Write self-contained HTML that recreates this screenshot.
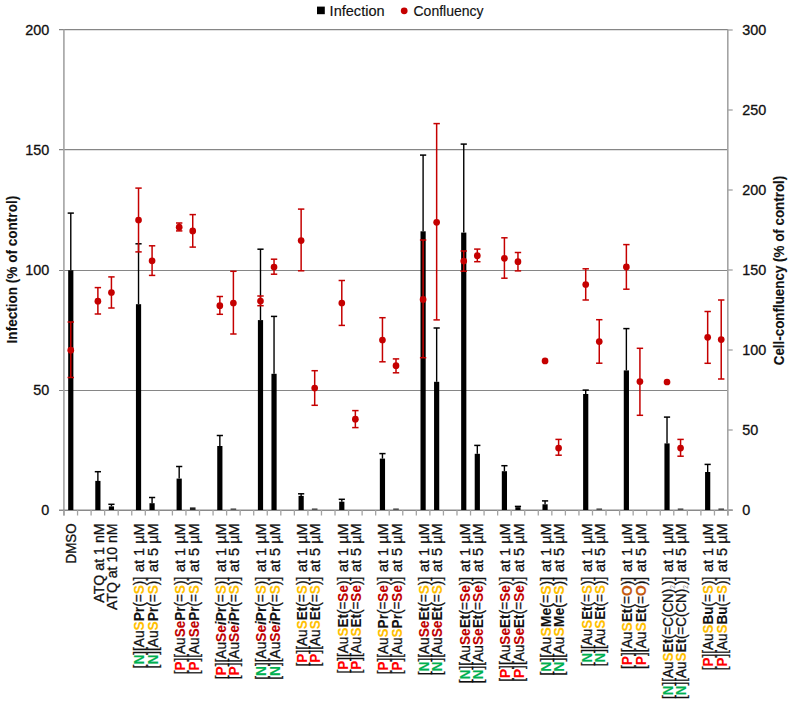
<!DOCTYPE html>
<html><head><meta charset="utf-8"><style>
html,body{margin:0;padding:0;background:#fff;}
body{width:793px;height:705px;overflow:hidden;}
svg{display:block;font-family:"Liberation Sans",sans-serif;}
text{stroke:#111;stroke-width:0.3px;}
</style></head><body>
<svg width="793" height="705" viewBox="0 0 793 705">
<rect width="793" height="705" fill="#fff"/>
<line x1="59" y1="390.5" x2="728" y2="390.5" stroke="#868686" stroke-width="1.2"/>
<line x1="59" y1="270.5" x2="728" y2="270.5" stroke="#868686" stroke-width="1.2"/>
<line x1="59" y1="149.7" x2="728" y2="149.7" stroke="#868686" stroke-width="1.2"/>
<line x1="59" y1="29.6" x2="728" y2="29.6" stroke="#868686" stroke-width="1.2"/>
<line x1="63.9" y1="29.5" x2="63.9" y2="515.5" stroke="#a3a3a3" stroke-width="1.6"/>
<line x1="59" y1="510.3" x2="732.7" y2="510.3" stroke="#8a8a8a" stroke-width="1.4"/>
<line x1="727.8" y1="29.5" x2="727.8" y2="515.5" stroke="#a3a3a3" stroke-width="1.6"/>
<line x1="727.8" y1="510.0" x2="732.7" y2="510.0" stroke="#a3a3a3" stroke-width="1.3"/>
<line x1="727.8" y1="430.0" x2="732.7" y2="430.0" stroke="#a3a3a3" stroke-width="1.3"/>
<line x1="727.8" y1="350.0" x2="732.7" y2="350.0" stroke="#a3a3a3" stroke-width="1.3"/>
<line x1="727.8" y1="270.0" x2="732.7" y2="270.0" stroke="#a3a3a3" stroke-width="1.3"/>
<line x1="727.8" y1="190.0" x2="732.7" y2="190.0" stroke="#a3a3a3" stroke-width="1.3"/>
<line x1="727.8" y1="110.0" x2="732.7" y2="110.0" stroke="#a3a3a3" stroke-width="1.3"/>
<line x1="727.8" y1="30.0" x2="732.7" y2="30.0" stroke="#a3a3a3" stroke-width="1.3"/>
<line x1="64.00" y1="510" x2="64.00" y2="515.5" stroke="#a3a3a3" stroke-width="1.3"/>
<line x1="77.55" y1="510" x2="77.55" y2="515.5" stroke="#a3a3a3" stroke-width="1.3"/>
<line x1="91.10" y1="510" x2="91.10" y2="515.5" stroke="#a3a3a3" stroke-width="1.3"/>
<line x1="104.65" y1="510" x2="104.65" y2="515.5" stroke="#a3a3a3" stroke-width="1.3"/>
<line x1="118.20" y1="510" x2="118.20" y2="515.5" stroke="#a3a3a3" stroke-width="1.3"/>
<line x1="131.75" y1="510" x2="131.75" y2="515.5" stroke="#a3a3a3" stroke-width="1.3"/>
<line x1="145.31" y1="510" x2="145.31" y2="515.5" stroke="#a3a3a3" stroke-width="1.3"/>
<line x1="158.86" y1="510" x2="158.86" y2="515.5" stroke="#a3a3a3" stroke-width="1.3"/>
<line x1="172.41" y1="510" x2="172.41" y2="515.5" stroke="#a3a3a3" stroke-width="1.3"/>
<line x1="185.96" y1="510" x2="185.96" y2="515.5" stroke="#a3a3a3" stroke-width="1.3"/>
<line x1="199.51" y1="510" x2="199.51" y2="515.5" stroke="#a3a3a3" stroke-width="1.3"/>
<line x1="213.06" y1="510" x2="213.06" y2="515.5" stroke="#a3a3a3" stroke-width="1.3"/>
<line x1="226.61" y1="510" x2="226.61" y2="515.5" stroke="#a3a3a3" stroke-width="1.3"/>
<line x1="240.16" y1="510" x2="240.16" y2="515.5" stroke="#a3a3a3" stroke-width="1.3"/>
<line x1="253.71" y1="510" x2="253.71" y2="515.5" stroke="#a3a3a3" stroke-width="1.3"/>
<line x1="267.26" y1="510" x2="267.26" y2="515.5" stroke="#a3a3a3" stroke-width="1.3"/>
<line x1="280.82" y1="510" x2="280.82" y2="515.5" stroke="#a3a3a3" stroke-width="1.3"/>
<line x1="294.37" y1="510" x2="294.37" y2="515.5" stroke="#a3a3a3" stroke-width="1.3"/>
<line x1="307.92" y1="510" x2="307.92" y2="515.5" stroke="#a3a3a3" stroke-width="1.3"/>
<line x1="321.47" y1="510" x2="321.47" y2="515.5" stroke="#a3a3a3" stroke-width="1.3"/>
<line x1="335.02" y1="510" x2="335.02" y2="515.5" stroke="#a3a3a3" stroke-width="1.3"/>
<line x1="348.57" y1="510" x2="348.57" y2="515.5" stroke="#a3a3a3" stroke-width="1.3"/>
<line x1="362.12" y1="510" x2="362.12" y2="515.5" stroke="#a3a3a3" stroke-width="1.3"/>
<line x1="375.67" y1="510" x2="375.67" y2="515.5" stroke="#a3a3a3" stroke-width="1.3"/>
<line x1="389.22" y1="510" x2="389.22" y2="515.5" stroke="#a3a3a3" stroke-width="1.3"/>
<line x1="402.77" y1="510" x2="402.77" y2="515.5" stroke="#a3a3a3" stroke-width="1.3"/>
<line x1="416.33" y1="510" x2="416.33" y2="515.5" stroke="#a3a3a3" stroke-width="1.3"/>
<line x1="429.88" y1="510" x2="429.88" y2="515.5" stroke="#a3a3a3" stroke-width="1.3"/>
<line x1="443.43" y1="510" x2="443.43" y2="515.5" stroke="#a3a3a3" stroke-width="1.3"/>
<line x1="456.98" y1="510" x2="456.98" y2="515.5" stroke="#a3a3a3" stroke-width="1.3"/>
<line x1="470.53" y1="510" x2="470.53" y2="515.5" stroke="#a3a3a3" stroke-width="1.3"/>
<line x1="484.08" y1="510" x2="484.08" y2="515.5" stroke="#a3a3a3" stroke-width="1.3"/>
<line x1="497.63" y1="510" x2="497.63" y2="515.5" stroke="#a3a3a3" stroke-width="1.3"/>
<line x1="511.18" y1="510" x2="511.18" y2="515.5" stroke="#a3a3a3" stroke-width="1.3"/>
<line x1="524.73" y1="510" x2="524.73" y2="515.5" stroke="#a3a3a3" stroke-width="1.3"/>
<line x1="538.29" y1="510" x2="538.29" y2="515.5" stroke="#a3a3a3" stroke-width="1.3"/>
<line x1="551.84" y1="510" x2="551.84" y2="515.5" stroke="#a3a3a3" stroke-width="1.3"/>
<line x1="565.39" y1="510" x2="565.39" y2="515.5" stroke="#a3a3a3" stroke-width="1.3"/>
<line x1="578.94" y1="510" x2="578.94" y2="515.5" stroke="#a3a3a3" stroke-width="1.3"/>
<line x1="592.49" y1="510" x2="592.49" y2="515.5" stroke="#a3a3a3" stroke-width="1.3"/>
<line x1="606.04" y1="510" x2="606.04" y2="515.5" stroke="#a3a3a3" stroke-width="1.3"/>
<line x1="619.59" y1="510" x2="619.59" y2="515.5" stroke="#a3a3a3" stroke-width="1.3"/>
<line x1="633.14" y1="510" x2="633.14" y2="515.5" stroke="#a3a3a3" stroke-width="1.3"/>
<line x1="646.69" y1="510" x2="646.69" y2="515.5" stroke="#a3a3a3" stroke-width="1.3"/>
<line x1="660.24" y1="510" x2="660.24" y2="515.5" stroke="#a3a3a3" stroke-width="1.3"/>
<line x1="673.79" y1="510" x2="673.79" y2="515.5" stroke="#a3a3a3" stroke-width="1.3"/>
<line x1="687.35" y1="510" x2="687.35" y2="515.5" stroke="#a3a3a3" stroke-width="1.3"/>
<line x1="700.90" y1="510" x2="700.90" y2="515.5" stroke="#a3a3a3" stroke-width="1.3"/>
<line x1="714.45" y1="510" x2="714.45" y2="515.5" stroke="#a3a3a3" stroke-width="1.3"/>
<line x1="728.00" y1="510" x2="728.00" y2="515.5" stroke="#a3a3a3" stroke-width="1.3"/>
<rect x="68.18" y="270.3" width="5.2" height="239.70" fill="#000"/>
<line x1="70.78" y1="213.1" x2="70.78" y2="270.3" stroke="#000" stroke-width="1.4"/>
<line x1="67.68" y1="213.1" x2="73.88" y2="213.1" stroke="#000" stroke-width="1.5"/>
<rect x="95.28" y="480.9" width="5.2" height="29.10" fill="#000"/>
<line x1="97.88" y1="471.7" x2="97.88" y2="480.9" stroke="#000" stroke-width="1.4"/>
<line x1="94.78" y1="471.7" x2="100.98" y2="471.7" stroke="#000" stroke-width="1.5"/>
<rect x="108.83" y="506.4" width="5.2" height="3.60" fill="#000"/>
<line x1="111.43" y1="504.3" x2="111.43" y2="506.4" stroke="#000" stroke-width="1.4"/>
<line x1="108.33" y1="504.3" x2="114.53" y2="504.3" stroke="#000" stroke-width="1.5"/>
<rect x="135.93" y="304.2" width="5.2" height="205.80" fill="#000"/>
<line x1="138.53" y1="243.8" x2="138.53" y2="304.2" stroke="#000" stroke-width="1.4"/>
<line x1="135.43" y1="243.8" x2="141.63" y2="243.8" stroke="#000" stroke-width="1.5"/>
<rect x="149.48" y="503.2" width="5.2" height="6.80" fill="#000"/>
<line x1="152.08" y1="497.5" x2="152.08" y2="503.2" stroke="#000" stroke-width="1.4"/>
<line x1="148.98" y1="497.5" x2="155.18" y2="497.5" stroke="#000" stroke-width="1.5"/>
<rect x="176.58" y="478.6" width="5.2" height="31.40" fill="#000"/>
<line x1="179.18" y1="466.5" x2="179.18" y2="478.6" stroke="#000" stroke-width="1.4"/>
<line x1="176.08" y1="466.5" x2="182.28" y2="466.5" stroke="#000" stroke-width="1.5"/>
<rect x="189.93" y="507.4" width="5.6" height="2.60" fill="#222"/>
<rect x="217.24" y="446" width="5.2" height="64.00" fill="#000"/>
<line x1="219.84" y1="435.5" x2="219.84" y2="446" stroke="#000" stroke-width="1.4"/>
<line x1="216.74" y1="435.5" x2="222.94" y2="435.5" stroke="#000" stroke-width="1.5"/>
<rect x="230.59" y="508.5" width="5.6" height="1.3" fill="#333"/>
<rect x="257.89" y="320.1" width="5.2" height="189.90" fill="#000"/>
<line x1="260.49" y1="249.2" x2="260.49" y2="320.1" stroke="#000" stroke-width="1.4"/>
<line x1="257.39" y1="249.2" x2="263.59" y2="249.2" stroke="#000" stroke-width="1.5"/>
<rect x="271.44" y="373.8" width="5.2" height="136.20" fill="#000"/>
<line x1="274.04" y1="316.4" x2="274.04" y2="373.8" stroke="#000" stroke-width="1.4"/>
<line x1="270.94" y1="316.4" x2="277.14" y2="316.4" stroke="#000" stroke-width="1.5"/>
<rect x="298.54" y="495.9" width="5.2" height="14.10" fill="#000"/>
<line x1="301.14" y1="493.8" x2="301.14" y2="495.9" stroke="#000" stroke-width="1.4"/>
<line x1="298.04" y1="493.8" x2="304.24" y2="493.8" stroke="#000" stroke-width="1.5"/>
<rect x="311.89" y="508.5" width="5.6" height="1.3" fill="#333"/>
<rect x="339.20" y="501.7" width="5.2" height="8.30" fill="#000"/>
<line x1="341.80" y1="499.3" x2="341.80" y2="501.7" stroke="#000" stroke-width="1.4"/>
<line x1="338.70" y1="499.3" x2="344.90" y2="499.3" stroke="#000" stroke-width="1.5"/>
<rect x="379.85" y="458.6" width="5.2" height="51.40" fill="#000"/>
<line x1="382.45" y1="453.6" x2="382.45" y2="458.6" stroke="#000" stroke-width="1.4"/>
<line x1="379.35" y1="453.6" x2="385.55" y2="453.6" stroke="#000" stroke-width="1.5"/>
<rect x="393.20" y="508.5" width="5.6" height="1.3" fill="#333"/>
<rect x="420.50" y="231.3" width="5.2" height="278.70" fill="#000"/>
<line x1="423.10" y1="155.1" x2="423.10" y2="231.3" stroke="#000" stroke-width="1.4"/>
<line x1="420.00" y1="155.1" x2="426.20" y2="155.1" stroke="#000" stroke-width="1.5"/>
<rect x="434.05" y="381.8" width="5.2" height="128.20" fill="#000"/>
<line x1="436.65" y1="328" x2="436.65" y2="381.8" stroke="#000" stroke-width="1.4"/>
<line x1="433.55" y1="328" x2="439.75" y2="328" stroke="#000" stroke-width="1.5"/>
<rect x="461.15" y="232.6" width="5.2" height="277.40" fill="#000"/>
<line x1="463.75" y1="144.1" x2="463.75" y2="232.6" stroke="#000" stroke-width="1.4"/>
<line x1="460.65" y1="144.1" x2="466.85" y2="144.1" stroke="#000" stroke-width="1.5"/>
<rect x="474.71" y="453.8" width="5.2" height="56.20" fill="#000"/>
<line x1="477.31" y1="445.4" x2="477.31" y2="453.8" stroke="#000" stroke-width="1.4"/>
<line x1="474.21" y1="445.4" x2="480.41" y2="445.4" stroke="#000" stroke-width="1.5"/>
<rect x="501.81" y="471.2" width="5.2" height="38.80" fill="#000"/>
<line x1="504.41" y1="465.7" x2="504.41" y2="471.2" stroke="#000" stroke-width="1.4"/>
<line x1="501.31" y1="465.7" x2="507.51" y2="465.7" stroke="#000" stroke-width="1.5"/>
<rect x="515.36" y="507.2" width="5.2" height="2.80" fill="#000"/>
<line x1="517.96" y1="506.4" x2="517.96" y2="507.2" stroke="#000" stroke-width="1.4"/>
<line x1="514.86" y1="506.4" x2="521.06" y2="506.4" stroke="#000" stroke-width="1.5"/>
<rect x="542.46" y="504.3" width="5.2" height="5.70" fill="#000"/>
<line x1="545.06" y1="500.9" x2="545.06" y2="504.3" stroke="#000" stroke-width="1.4"/>
<line x1="541.96" y1="500.9" x2="548.16" y2="500.9" stroke="#000" stroke-width="1.5"/>
<rect x="583.11" y="394" width="5.2" height="116.00" fill="#000"/>
<line x1="585.71" y1="390.1" x2="585.71" y2="394" stroke="#000" stroke-width="1.4"/>
<line x1="582.61" y1="390.1" x2="588.81" y2="390.1" stroke="#000" stroke-width="1.5"/>
<rect x="596.46" y="508.5" width="5.6" height="1.3" fill="#333"/>
<rect x="623.77" y="370.4" width="5.2" height="139.60" fill="#000"/>
<line x1="626.37" y1="328.6" x2="626.37" y2="370.4" stroke="#000" stroke-width="1.4"/>
<line x1="623.27" y1="328.6" x2="629.47" y2="328.6" stroke="#000" stroke-width="1.5"/>
<rect x="664.42" y="443.4" width="5.2" height="66.60" fill="#000"/>
<line x1="667.02" y1="417.1" x2="667.02" y2="443.4" stroke="#000" stroke-width="1.4"/>
<line x1="663.92" y1="417.1" x2="670.12" y2="417.1" stroke="#000" stroke-width="1.5"/>
<rect x="677.77" y="508.5" width="5.6" height="1.3" fill="#333"/>
<rect x="705.07" y="472" width="5.2" height="38.00" fill="#000"/>
<line x1="707.67" y1="464.4" x2="707.67" y2="472" stroke="#000" stroke-width="1.4"/>
<line x1="704.57" y1="464.4" x2="710.77" y2="464.4" stroke="#000" stroke-width="1.5"/>
<rect x="718.42" y="508.5" width="5.6" height="1.3" fill="#333"/>
<line x1="70.78" y1="322" x2="70.78" y2="377.5" stroke="#C50000" stroke-width="1.5"/>
<line x1="67.58" y1="322" x2="73.98" y2="322" stroke="#C50000" stroke-width="1.5"/>
<line x1="67.58" y1="377.5" x2="73.98" y2="377.5" stroke="#C50000" stroke-width="1.5"/>
<circle cx="70.78" cy="350.2" r="3.35" fill="#C50000"/>
<line x1="97.88" y1="287.6" x2="97.88" y2="314" stroke="#C50000" stroke-width="1.5"/>
<line x1="94.68" y1="287.6" x2="101.08" y2="287.6" stroke="#C50000" stroke-width="1.5"/>
<line x1="94.68" y1="314" x2="101.08" y2="314" stroke="#C50000" stroke-width="1.5"/>
<circle cx="97.88" cy="301.2" r="3.35" fill="#C50000"/>
<line x1="111.43" y1="276.9" x2="111.43" y2="308" stroke="#C50000" stroke-width="1.5"/>
<line x1="108.23" y1="276.9" x2="114.63" y2="276.9" stroke="#C50000" stroke-width="1.5"/>
<line x1="108.23" y1="308" x2="114.63" y2="308" stroke="#C50000" stroke-width="1.5"/>
<circle cx="111.43" cy="292.5" r="3.35" fill="#C50000"/>
<line x1="138.53" y1="188.1" x2="138.53" y2="251.9" stroke="#C50000" stroke-width="1.5"/>
<line x1="135.33" y1="188.1" x2="141.73" y2="188.1" stroke="#C50000" stroke-width="1.5"/>
<line x1="135.33" y1="251.9" x2="141.73" y2="251.9" stroke="#C50000" stroke-width="1.5"/>
<circle cx="138.53" cy="220" r="3.35" fill="#C50000"/>
<line x1="152.08" y1="245.8" x2="152.08" y2="275.4" stroke="#C50000" stroke-width="1.5"/>
<line x1="148.88" y1="245.8" x2="155.28" y2="245.8" stroke="#C50000" stroke-width="1.5"/>
<line x1="148.88" y1="275.4" x2="155.28" y2="275.4" stroke="#C50000" stroke-width="1.5"/>
<circle cx="152.08" cy="260.8" r="3.35" fill="#C50000"/>
<line x1="179.18" y1="223" x2="179.18" y2="230.9" stroke="#C50000" stroke-width="1.5"/>
<line x1="175.98" y1="223" x2="182.38" y2="223" stroke="#C50000" stroke-width="1.5"/>
<line x1="175.98" y1="230.9" x2="182.38" y2="230.9" stroke="#C50000" stroke-width="1.5"/>
<circle cx="179.18" cy="227.2" r="3.35" fill="#C50000"/>
<line x1="192.73" y1="214.6" x2="192.73" y2="247.1" stroke="#C50000" stroke-width="1.5"/>
<line x1="189.53" y1="214.6" x2="195.93" y2="214.6" stroke="#C50000" stroke-width="1.5"/>
<line x1="189.53" y1="247.1" x2="195.93" y2="247.1" stroke="#C50000" stroke-width="1.5"/>
<circle cx="192.73" cy="230.9" r="3.35" fill="#C50000"/>
<line x1="219.84" y1="296.5" x2="219.84" y2="314.3" stroke="#C50000" stroke-width="1.5"/>
<line x1="216.64" y1="296.5" x2="223.04" y2="296.5" stroke="#C50000" stroke-width="1.5"/>
<line x1="216.64" y1="314.3" x2="223.04" y2="314.3" stroke="#C50000" stroke-width="1.5"/>
<circle cx="219.84" cy="305.7" r="3.35" fill="#C50000"/>
<line x1="233.39" y1="271.3" x2="233.39" y2="334" stroke="#C50000" stroke-width="1.5"/>
<line x1="230.19" y1="271.3" x2="236.59" y2="271.3" stroke="#C50000" stroke-width="1.5"/>
<line x1="230.19" y1="334" x2="236.59" y2="334" stroke="#C50000" stroke-width="1.5"/>
<circle cx="233.39" cy="303" r="3.35" fill="#C50000"/>
<line x1="260.49" y1="296" x2="260.49" y2="305.7" stroke="#C50000" stroke-width="1.5"/>
<line x1="257.29" y1="296" x2="263.69" y2="296" stroke="#C50000" stroke-width="1.5"/>
<line x1="257.29" y1="305.7" x2="263.69" y2="305.7" stroke="#C50000" stroke-width="1.5"/>
<circle cx="260.49" cy="301" r="3.35" fill="#C50000"/>
<line x1="274.04" y1="259.2" x2="274.04" y2="274.2" stroke="#C50000" stroke-width="1.5"/>
<line x1="270.84" y1="259.2" x2="277.24" y2="259.2" stroke="#C50000" stroke-width="1.5"/>
<line x1="270.84" y1="274.2" x2="277.24" y2="274.2" stroke="#C50000" stroke-width="1.5"/>
<circle cx="274.04" cy="267.1" r="3.35" fill="#C50000"/>
<line x1="301.14" y1="209.1" x2="301.14" y2="270.8" stroke="#C50000" stroke-width="1.5"/>
<line x1="297.94" y1="209.1" x2="304.34" y2="209.1" stroke="#C50000" stroke-width="1.5"/>
<line x1="297.94" y1="270.8" x2="304.34" y2="270.8" stroke="#C50000" stroke-width="1.5"/>
<circle cx="301.14" cy="240.6" r="3.35" fill="#C50000"/>
<line x1="314.69" y1="370.7" x2="314.69" y2="405.3" stroke="#C50000" stroke-width="1.5"/>
<line x1="311.49" y1="370.7" x2="317.89" y2="370.7" stroke="#C50000" stroke-width="1.5"/>
<line x1="311.49" y1="405.3" x2="317.89" y2="405.3" stroke="#C50000" stroke-width="1.5"/>
<circle cx="314.69" cy="388" r="3.35" fill="#C50000"/>
<line x1="341.80" y1="280.5" x2="341.80" y2="325.4" stroke="#C50000" stroke-width="1.5"/>
<line x1="338.60" y1="280.5" x2="345.00" y2="280.5" stroke="#C50000" stroke-width="1.5"/>
<line x1="338.60" y1="325.4" x2="345.00" y2="325.4" stroke="#C50000" stroke-width="1.5"/>
<circle cx="341.80" cy="303" r="3.35" fill="#C50000"/>
<line x1="355.35" y1="410.6" x2="355.35" y2="427.6" stroke="#C50000" stroke-width="1.5"/>
<line x1="352.15" y1="410.6" x2="358.55" y2="410.6" stroke="#C50000" stroke-width="1.5"/>
<line x1="352.15" y1="427.6" x2="358.55" y2="427.6" stroke="#C50000" stroke-width="1.5"/>
<circle cx="355.35" cy="419.2" r="3.35" fill="#C50000"/>
<line x1="382.45" y1="317.7" x2="382.45" y2="361.8" stroke="#C50000" stroke-width="1.5"/>
<line x1="379.25" y1="317.7" x2="385.65" y2="317.7" stroke="#C50000" stroke-width="1.5"/>
<line x1="379.25" y1="361.8" x2="385.65" y2="361.8" stroke="#C50000" stroke-width="1.5"/>
<circle cx="382.45" cy="340" r="3.35" fill="#C50000"/>
<line x1="396.00" y1="358.9" x2="396.00" y2="372.8" stroke="#C50000" stroke-width="1.5"/>
<line x1="392.80" y1="358.9" x2="399.20" y2="358.9" stroke="#C50000" stroke-width="1.5"/>
<line x1="392.80" y1="372.8" x2="399.20" y2="372.8" stroke="#C50000" stroke-width="1.5"/>
<circle cx="396.00" cy="365.7" r="3.35" fill="#C50000"/>
<line x1="423.10" y1="240" x2="423.10" y2="357.7" stroke="#C50000" stroke-width="1.5"/>
<line x1="419.90" y1="240" x2="426.30" y2="240" stroke="#C50000" stroke-width="1.5"/>
<line x1="419.90" y1="357.7" x2="426.30" y2="357.7" stroke="#C50000" stroke-width="1.5"/>
<circle cx="423.10" cy="299.4" r="3.35" fill="#C50000"/>
<line x1="436.65" y1="123.6" x2="436.65" y2="319.9" stroke="#C50000" stroke-width="1.5"/>
<line x1="433.45" y1="123.6" x2="439.85" y2="123.6" stroke="#C50000" stroke-width="1.5"/>
<line x1="433.45" y1="319.9" x2="439.85" y2="319.9" stroke="#C50000" stroke-width="1.5"/>
<circle cx="436.65" cy="222.3" r="3.35" fill="#C50000"/>
<line x1="463.75" y1="251" x2="463.75" y2="271.2" stroke="#C50000" stroke-width="1.5"/>
<line x1="460.55" y1="251" x2="466.95" y2="251" stroke="#C50000" stroke-width="1.5"/>
<line x1="460.55" y1="271.2" x2="466.95" y2="271.2" stroke="#C50000" stroke-width="1.5"/>
<circle cx="463.75" cy="261" r="3.35" fill="#C50000"/>
<line x1="477.31" y1="249.1" x2="477.31" y2="261.7" stroke="#C50000" stroke-width="1.5"/>
<line x1="474.11" y1="249.1" x2="480.51" y2="249.1" stroke="#C50000" stroke-width="1.5"/>
<line x1="474.11" y1="261.7" x2="480.51" y2="261.7" stroke="#C50000" stroke-width="1.5"/>
<circle cx="477.31" cy="255.7" r="3.35" fill="#C50000"/>
<line x1="504.41" y1="237.8" x2="504.41" y2="278.2" stroke="#C50000" stroke-width="1.5"/>
<line x1="501.21" y1="237.8" x2="507.61" y2="237.8" stroke="#C50000" stroke-width="1.5"/>
<line x1="501.21" y1="278.2" x2="507.61" y2="278.2" stroke="#C50000" stroke-width="1.5"/>
<circle cx="504.41" cy="258.3" r="3.35" fill="#C50000"/>
<line x1="517.96" y1="252.5" x2="517.96" y2="270.9" stroke="#C50000" stroke-width="1.5"/>
<line x1="514.76" y1="252.5" x2="521.16" y2="252.5" stroke="#C50000" stroke-width="1.5"/>
<line x1="514.76" y1="270.9" x2="521.16" y2="270.9" stroke="#C50000" stroke-width="1.5"/>
<circle cx="517.96" cy="261.7" r="3.35" fill="#C50000"/>
<circle cx="545.06" cy="360.9" r="3.35" fill="#C50000"/>
<line x1="558.61" y1="439.4" x2="558.61" y2="455.2" stroke="#C50000" stroke-width="1.5"/>
<line x1="555.41" y1="439.4" x2="561.81" y2="439.4" stroke="#C50000" stroke-width="1.5"/>
<line x1="555.41" y1="455.2" x2="561.81" y2="455.2" stroke="#C50000" stroke-width="1.5"/>
<circle cx="558.61" cy="448.1" r="3.35" fill="#C50000"/>
<line x1="585.71" y1="268.8" x2="585.71" y2="300" stroke="#C50000" stroke-width="1.5"/>
<line x1="582.51" y1="268.8" x2="588.91" y2="268.8" stroke="#C50000" stroke-width="1.5"/>
<line x1="582.51" y1="300" x2="588.91" y2="300" stroke="#C50000" stroke-width="1.5"/>
<circle cx="585.71" cy="284.5" r="3.35" fill="#C50000"/>
<line x1="599.26" y1="319.7" x2="599.26" y2="363.2" stroke="#C50000" stroke-width="1.5"/>
<line x1="596.06" y1="319.7" x2="602.46" y2="319.7" stroke="#C50000" stroke-width="1.5"/>
<line x1="596.06" y1="363.2" x2="602.46" y2="363.2" stroke="#C50000" stroke-width="1.5"/>
<circle cx="599.26" cy="341.6" r="3.35" fill="#C50000"/>
<line x1="626.37" y1="244.6" x2="626.37" y2="289.2" stroke="#C50000" stroke-width="1.5"/>
<line x1="623.17" y1="244.6" x2="629.57" y2="244.6" stroke="#C50000" stroke-width="1.5"/>
<line x1="623.17" y1="289.2" x2="629.57" y2="289.2" stroke="#C50000" stroke-width="1.5"/>
<circle cx="626.37" cy="266.9" r="3.35" fill="#C50000"/>
<line x1="639.92" y1="348.3" x2="639.92" y2="415.3" stroke="#C50000" stroke-width="1.5"/>
<line x1="636.72" y1="348.3" x2="643.12" y2="348.3" stroke="#C50000" stroke-width="1.5"/>
<line x1="636.72" y1="415.3" x2="643.12" y2="415.3" stroke="#C50000" stroke-width="1.5"/>
<circle cx="639.92" cy="381.6" r="3.35" fill="#C50000"/>
<circle cx="667.02" cy="382" r="3.35" fill="#C50000"/>
<line x1="680.57" y1="439.4" x2="680.57" y2="456.2" stroke="#C50000" stroke-width="1.5"/>
<line x1="677.37" y1="439.4" x2="683.77" y2="439.4" stroke="#C50000" stroke-width="1.5"/>
<line x1="677.37" y1="456.2" x2="683.77" y2="456.2" stroke="#C50000" stroke-width="1.5"/>
<circle cx="680.57" cy="448.1" r="3.35" fill="#C50000"/>
<line x1="707.67" y1="311.5" x2="707.67" y2="363.3" stroke="#C50000" stroke-width="1.5"/>
<line x1="704.47" y1="311.5" x2="710.87" y2="311.5" stroke="#C50000" stroke-width="1.5"/>
<line x1="704.47" y1="363.3" x2="710.87" y2="363.3" stroke="#C50000" stroke-width="1.5"/>
<circle cx="707.67" cy="337.3" r="3.35" fill="#C50000"/>
<line x1="721.22" y1="300" x2="721.22" y2="379" stroke="#C50000" stroke-width="1.5"/>
<line x1="718.02" y1="300" x2="724.42" y2="300" stroke="#C50000" stroke-width="1.5"/>
<line x1="718.02" y1="379" x2="724.42" y2="379" stroke="#C50000" stroke-width="1.5"/>
<circle cx="721.22" cy="339.6" r="3.35" fill="#C50000"/>
<g font-size="14.4" fill="#111" style="stroke-width:0.12px">
<text x="49.2" y="514.76" text-anchor="end">0</text>
<text x="49.2" y="394.76" text-anchor="end">50</text>
<text x="49.2" y="274.76" text-anchor="end">100</text>
<text x="49.2" y="154.76" text-anchor="end">150</text>
<text x="49.2" y="34.76" text-anchor="end">200</text>
<text x="742.3" y="514.76">0</text>
<text x="742.3" y="434.76">50</text>
<text x="742.3" y="354.76">100</text>
<text x="742.3" y="274.76">150</text>
<text x="742.3" y="194.76">200</text>
<text x="742.3" y="114.76">250</text>
<text x="742.3" y="34.76">300</text>
</g>
<text transform="translate(16.7,269.6) rotate(-90)" text-anchor="middle" font-weight="bold" style="stroke-width:0.12px" font-size="14.4" textLength="147.6" lengthAdjust="spacingAndGlyphs" fill="#111">Infection (% of control)</text>
<text transform="translate(784.3,270.5) rotate(-90)" text-anchor="middle" font-weight="bold" style="stroke-width:0.12px" font-size="14.4" textLength="189.5" lengthAdjust="spacingAndGlyphs" fill="#111">Cell-confluency (% of control)</text>
<rect x="317" y="6.6" width="7.8" height="7.6" fill="#000"/>
<text x="329.6" y="15.5" font-size="14.6" style="stroke-width:0.15px" textLength="55" lengthAdjust="spacingAndGlyphs" fill="#111">Infection</text>
<circle cx="404.2" cy="10.8" r="3.4" fill="#C50000"/>
<text x="413.5" y="15.5" font-size="14.6" style="stroke-width:0.15px" textLength="70" lengthAdjust="spacingAndGlyphs" fill="#111">Confluency</text>
<g fill="#111">
<text transform="translate(75.98,523.4) rotate(-90)" text-anchor="end" textLength="40.1" lengthAdjust="spacingAndGlyphs" font-size="14.4">DMSO</text>
<text transform="translate(103.68,523.4) rotate(-90)" text-anchor="end" textLength="79.3" lengthAdjust="spacingAndGlyphs" font-size="14.4">ATQ at 1 nM</text>
<text transform="translate(117.23,523.4) rotate(-90)" text-anchor="end" textLength="86.7" lengthAdjust="spacingAndGlyphs" font-size="14.4">ATQ at 10 nM</text>
<text transform="translate(144.33,523.4) rotate(-90)" text-anchor="end" textLength="48.7" lengthAdjust="spacingAndGlyphs" font-size="14.4">at 1 µM</text><text transform="translate(144.33,668.40) rotate(-90)" text-anchor="start" textLength="91.6" lengthAdjust="spacingAndGlyphs" font-size="14.4">[<tspan style="font-weight:bold;stroke-width:0.1px;fill:#00B050;stroke:#00B050">N</tspan>][Au<tspan style="font-weight:bold;stroke-width:0.1px;fill:#FFC000;stroke:#FFC000">S</tspan><tspan style="font-weight:bold;stroke-width:0.1px">Pr</tspan>(=<tspan style="font-weight:bold;stroke-width:0.1px;fill:#FFC000;stroke:#FFC000">S</tspan>)]</text>
<text transform="translate(157.88,523.4) rotate(-90)" text-anchor="end" textLength="48.7" lengthAdjust="spacingAndGlyphs" font-size="14.4">at 5 µM</text><text transform="translate(157.88,668.40) rotate(-90)" text-anchor="start" textLength="91.6" lengthAdjust="spacingAndGlyphs" font-size="14.4">[<tspan style="font-weight:bold;stroke-width:0.1px;fill:#00B050;stroke:#00B050">N</tspan>][Au<tspan style="font-weight:bold;stroke-width:0.1px;fill:#FFC000;stroke:#FFC000">S</tspan><tspan style="font-weight:bold;stroke-width:0.1px">Pr</tspan>(=<tspan style="font-weight:bold;stroke-width:0.1px;fill:#FFC000;stroke:#FFC000">S</tspan>)]</text>
<text transform="translate(184.98,523.4) rotate(-90)" text-anchor="end" textLength="48.7" lengthAdjust="spacingAndGlyphs" font-size="14.4">at 1 µM</text><text transform="translate(184.98,674.20) rotate(-90)" text-anchor="start" textLength="97.4" lengthAdjust="spacingAndGlyphs" font-size="14.4">[<tspan style="font-weight:bold;stroke-width:0.1px;fill:#FF0000;stroke:#FF0000">P</tspan>][Au<tspan style="font-weight:bold;stroke-width:0.1px;fill:#C00000;stroke:#C00000">Se</tspan><tspan style="font-weight:bold;stroke-width:0.1px">Pr</tspan>(=<tspan style="font-weight:bold;stroke-width:0.1px;fill:#FFC000;stroke:#FFC000">S</tspan>)]</text>
<text transform="translate(198.53,523.4) rotate(-90)" text-anchor="end" textLength="48.7" lengthAdjust="spacingAndGlyphs" font-size="14.4">at 5 µM</text><text transform="translate(198.53,674.20) rotate(-90)" text-anchor="start" textLength="97.4" lengthAdjust="spacingAndGlyphs" font-size="14.4">[<tspan style="font-weight:bold;stroke-width:0.1px;fill:#FF0000;stroke:#FF0000">P</tspan>][Au<tspan style="font-weight:bold;stroke-width:0.1px;fill:#C00000;stroke:#C00000">Se</tspan><tspan style="font-weight:bold;stroke-width:0.1px">Pr</tspan>(=<tspan style="font-weight:bold;stroke-width:0.1px;fill:#FFC000;stroke:#FFC000">S</tspan>)]</text>
<text transform="translate(225.64,523.4) rotate(-90)" text-anchor="end" textLength="48.7" lengthAdjust="spacingAndGlyphs" font-size="14.4">at 1 µM</text><text transform="translate(225.64,679.20) rotate(-90)" text-anchor="start" textLength="102.4" lengthAdjust="spacingAndGlyphs" font-size="14.4">[<tspan style="font-weight:bold;stroke-width:0.1px;fill:#FF0000;stroke:#FF0000">P</tspan>][Au<tspan style="font-weight:bold;stroke-width:0.1px;fill:#C00000;stroke:#C00000">Se</tspan><tspan style="font-weight:bold;stroke-width:0.1px;font-style:italic">i</tspan><tspan style="font-weight:bold;stroke-width:0.1px">Pr</tspan>(=<tspan style="font-weight:bold;stroke-width:0.1px;fill:#FFC000;stroke:#FFC000">S</tspan>)]</text>
<text transform="translate(239.19,523.4) rotate(-90)" text-anchor="end" textLength="48.7" lengthAdjust="spacingAndGlyphs" font-size="14.4">at 5 µM</text><text transform="translate(239.19,679.20) rotate(-90)" text-anchor="start" textLength="102.4" lengthAdjust="spacingAndGlyphs" font-size="14.4">[<tspan style="font-weight:bold;stroke-width:0.1px;fill:#FF0000;stroke:#FF0000">P</tspan>][Au<tspan style="font-weight:bold;stroke-width:0.1px;fill:#C00000;stroke:#C00000">Se</tspan><tspan style="font-weight:bold;stroke-width:0.1px;font-style:italic">i</tspan><tspan style="font-weight:bold;stroke-width:0.1px">Pr</tspan>(=<tspan style="font-weight:bold;stroke-width:0.1px;fill:#FFC000;stroke:#FFC000">S</tspan>)]</text>
<text transform="translate(266.29,523.4) rotate(-90)" text-anchor="end" textLength="48.7" lengthAdjust="spacingAndGlyphs" font-size="14.4">at 1 µM</text><text transform="translate(266.29,679.70) rotate(-90)" text-anchor="start" textLength="102.9" lengthAdjust="spacingAndGlyphs" font-size="14.4">[<tspan style="font-weight:bold;stroke-width:0.1px;fill:#00B050;stroke:#00B050">N</tspan>][Au<tspan style="font-weight:bold;stroke-width:0.1px;fill:#C00000;stroke:#C00000">Se</tspan><tspan style="font-weight:bold;stroke-width:0.1px;font-style:italic">i</tspan><tspan style="font-weight:bold;stroke-width:0.1px">Pr</tspan>(=<tspan style="font-weight:bold;stroke-width:0.1px;fill:#FFC000;stroke:#FFC000">S</tspan>)]</text>
<text transform="translate(279.84,523.4) rotate(-90)" text-anchor="end" textLength="48.7" lengthAdjust="spacingAndGlyphs" font-size="14.4">at 5 µM</text><text transform="translate(279.84,679.70) rotate(-90)" text-anchor="start" textLength="102.9" lengthAdjust="spacingAndGlyphs" font-size="14.4">[<tspan style="font-weight:bold;stroke-width:0.1px;fill:#00B050;stroke:#00B050">N</tspan>][Au<tspan style="font-weight:bold;stroke-width:0.1px;fill:#C00000;stroke:#C00000">Se</tspan><tspan style="font-weight:bold;stroke-width:0.1px;font-style:italic">i</tspan><tspan style="font-weight:bold;stroke-width:0.1px">Pr</tspan>(=<tspan style="font-weight:bold;stroke-width:0.1px;fill:#FFC000;stroke:#FFC000">S</tspan>)]</text>
<text transform="translate(306.94,523.4) rotate(-90)" text-anchor="end" textLength="48.7" lengthAdjust="spacingAndGlyphs" font-size="14.4">at 1 µM</text><text transform="translate(306.94,666.40) rotate(-90)" text-anchor="start" textLength="89.6" lengthAdjust="spacingAndGlyphs" font-size="14.4">[<tspan style="font-weight:bold;stroke-width:0.1px;fill:#FF0000;stroke:#FF0000">P</tspan>][Au<tspan style="font-weight:bold;stroke-width:0.1px;fill:#FFC000;stroke:#FFC000">S</tspan><tspan style="font-weight:bold;stroke-width:0.1px">Et</tspan>(=<tspan style="font-weight:bold;stroke-width:0.1px;fill:#FFC000;stroke:#FFC000">S</tspan>)]</text>
<text transform="translate(320.49,523.4) rotate(-90)" text-anchor="end" textLength="48.7" lengthAdjust="spacingAndGlyphs" font-size="14.4">at 5 µM</text><text transform="translate(320.49,666.40) rotate(-90)" text-anchor="start" textLength="89.6" lengthAdjust="spacingAndGlyphs" font-size="14.4">[<tspan style="font-weight:bold;stroke-width:0.1px;fill:#FF0000;stroke:#FF0000">P</tspan>][Au<tspan style="font-weight:bold;stroke-width:0.1px;fill:#FFC000;stroke:#FFC000">S</tspan><tspan style="font-weight:bold;stroke-width:0.1px">Et</tspan>(=<tspan style="font-weight:bold;stroke-width:0.1px;fill:#FFC000;stroke:#FFC000">S</tspan>)]</text>
<text transform="translate(347.60,523.4) rotate(-90)" text-anchor="end" textLength="48.7" lengthAdjust="spacingAndGlyphs" font-size="14.4">at 1 µM</text><text transform="translate(347.60,673.50) rotate(-90)" text-anchor="start" textLength="96.7" lengthAdjust="spacingAndGlyphs" font-size="14.4">[<tspan style="font-weight:bold;stroke-width:0.1px;fill:#FF0000;stroke:#FF0000">P</tspan>][Au<tspan style="font-weight:bold;stroke-width:0.1px;fill:#FFC000;stroke:#FFC000">S</tspan><tspan style="font-weight:bold;stroke-width:0.1px">Et</tspan>(=<tspan style="font-weight:bold;stroke-width:0.1px;fill:#C00000;stroke:#C00000">Se</tspan>)]</text>
<text transform="translate(361.15,523.4) rotate(-90)" text-anchor="end" textLength="48.7" lengthAdjust="spacingAndGlyphs" font-size="14.4">at 5 µM</text><text transform="translate(361.15,673.50) rotate(-90)" text-anchor="start" textLength="96.7" lengthAdjust="spacingAndGlyphs" font-size="14.4">[<tspan style="font-weight:bold;stroke-width:0.1px;fill:#FF0000;stroke:#FF0000">P</tspan>][Au<tspan style="font-weight:bold;stroke-width:0.1px;fill:#FFC000;stroke:#FFC000">S</tspan><tspan style="font-weight:bold;stroke-width:0.1px">Et</tspan>(=<tspan style="font-weight:bold;stroke-width:0.1px;fill:#C00000;stroke:#C00000">Se</tspan>)]</text>
<text transform="translate(388.25,523.4) rotate(-90)" text-anchor="end" textLength="48.7" lengthAdjust="spacingAndGlyphs" font-size="14.4">at 1 µM</text><text transform="translate(388.25,674.30) rotate(-90)" text-anchor="start" textLength="97.5" lengthAdjust="spacingAndGlyphs" font-size="14.4">[<tspan style="font-weight:bold;stroke-width:0.1px;fill:#FF0000;stroke:#FF0000">P</tspan>][Au<tspan style="font-weight:bold;stroke-width:0.1px;fill:#FFC000;stroke:#FFC000">S</tspan><tspan style="font-weight:bold;stroke-width:0.1px">Pr</tspan>(=<tspan style="font-weight:bold;stroke-width:0.1px;fill:#C00000;stroke:#C00000">Se</tspan>)]</text>
<text transform="translate(401.80,523.4) rotate(-90)" text-anchor="end" textLength="48.7" lengthAdjust="spacingAndGlyphs" font-size="14.4">at 5 µM</text><text transform="translate(401.80,674.30) rotate(-90)" text-anchor="start" textLength="97.5" lengthAdjust="spacingAndGlyphs" font-size="14.4">[<tspan style="font-weight:bold;stroke-width:0.1px;fill:#FF0000;stroke:#FF0000">P</tspan>][Au<tspan style="font-weight:bold;stroke-width:0.1px;fill:#FFC000;stroke:#FFC000">S</tspan><tspan style="font-weight:bold;stroke-width:0.1px">Pr</tspan>(=<tspan style="font-weight:bold;stroke-width:0.1px;fill:#C00000;stroke:#C00000">Se</tspan>)]</text>
<text transform="translate(428.90,523.4) rotate(-90)" text-anchor="end" textLength="48.7" lengthAdjust="spacingAndGlyphs" font-size="14.4">at 1 µM</text><text transform="translate(428.90,675.30) rotate(-90)" text-anchor="start" textLength="98.5" lengthAdjust="spacingAndGlyphs" font-size="14.4">[<tspan style="font-weight:bold;stroke-width:0.1px;fill:#00B050;stroke:#00B050">N</tspan>][Au<tspan style="font-weight:bold;stroke-width:0.1px;fill:#C00000;stroke:#C00000">Se</tspan><tspan style="font-weight:bold;stroke-width:0.1px">Et</tspan>(=<tspan style="font-weight:bold;stroke-width:0.1px;fill:#FFC000;stroke:#FFC000">S</tspan>)]</text>
<text transform="translate(442.45,523.4) rotate(-90)" text-anchor="end" textLength="48.7" lengthAdjust="spacingAndGlyphs" font-size="14.4">at 5 µM</text><text transform="translate(442.45,675.30) rotate(-90)" text-anchor="start" textLength="98.5" lengthAdjust="spacingAndGlyphs" font-size="14.4">[<tspan style="font-weight:bold;stroke-width:0.1px;fill:#00B050;stroke:#00B050">N</tspan>][Au<tspan style="font-weight:bold;stroke-width:0.1px;fill:#C00000;stroke:#C00000">Se</tspan><tspan style="font-weight:bold;stroke-width:0.1px">Et</tspan>(=<tspan style="font-weight:bold;stroke-width:0.1px;fill:#FFC000;stroke:#FFC000">S</tspan>)]</text>
<text transform="translate(469.55,523.4) rotate(-90)" text-anchor="end" textLength="48.7" lengthAdjust="spacingAndGlyphs" font-size="14.4">at 1 µM</text><text transform="translate(469.55,683.20) rotate(-90)" text-anchor="start" textLength="106.4" lengthAdjust="spacingAndGlyphs" font-size="14.4">[<tspan style="font-weight:bold;stroke-width:0.1px;fill:#00B050;stroke:#00B050">N</tspan>][Au<tspan style="font-weight:bold;stroke-width:0.1px;fill:#C00000;stroke:#C00000">Se</tspan><tspan style="font-weight:bold;stroke-width:0.1px">Et</tspan>(=<tspan style="font-weight:bold;stroke-width:0.1px;fill:#C00000;stroke:#C00000">Se</tspan>)]</text>
<text transform="translate(483.11,523.4) rotate(-90)" text-anchor="end" textLength="48.7" lengthAdjust="spacingAndGlyphs" font-size="14.4">at 5 µM</text><text transform="translate(483.11,683.20) rotate(-90)" text-anchor="start" textLength="106.4" lengthAdjust="spacingAndGlyphs" font-size="14.4">[<tspan style="font-weight:bold;stroke-width:0.1px;fill:#00B050;stroke:#00B050">N</tspan>][Au<tspan style="font-weight:bold;stroke-width:0.1px;fill:#C00000;stroke:#C00000">Se</tspan><tspan style="font-weight:bold;stroke-width:0.1px">Et</tspan>(=<tspan style="font-weight:bold;stroke-width:0.1px;fill:#C00000;stroke:#C00000">Se</tspan>)]</text>
<text transform="translate(510.21,523.4) rotate(-90)" text-anchor="end" textLength="48.7" lengthAdjust="spacingAndGlyphs" font-size="14.4">at 1 µM</text><text transform="translate(510.21,681.80) rotate(-90)" text-anchor="start" textLength="105.0" lengthAdjust="spacingAndGlyphs" font-size="14.4">[<tspan style="font-weight:bold;stroke-width:0.1px;fill:#FF0000;stroke:#FF0000">P</tspan>][Au<tspan style="font-weight:bold;stroke-width:0.1px;fill:#C00000;stroke:#C00000">Se</tspan><tspan style="font-weight:bold;stroke-width:0.1px">Et</tspan>(=<tspan style="font-weight:bold;stroke-width:0.1px;fill:#C00000;stroke:#C00000">Se</tspan>)]</text>
<text transform="translate(523.76,523.4) rotate(-90)" text-anchor="end" textLength="48.7" lengthAdjust="spacingAndGlyphs" font-size="14.4">at 5 µM</text><text transform="translate(523.76,681.80) rotate(-90)" text-anchor="start" textLength="105.0" lengthAdjust="spacingAndGlyphs" font-size="14.4">[<tspan style="font-weight:bold;stroke-width:0.1px;fill:#FF0000;stroke:#FF0000">P</tspan>][Au<tspan style="font-weight:bold;stroke-width:0.1px;fill:#C00000;stroke:#C00000">Se</tspan><tspan style="font-weight:bold;stroke-width:0.1px">Et</tspan>(=<tspan style="font-weight:bold;stroke-width:0.1px;fill:#C00000;stroke:#C00000">Se</tspan>)]</text>
<text transform="translate(550.86,523.4) rotate(-90)" text-anchor="end" textLength="48.7" lengthAdjust="spacingAndGlyphs" font-size="14.4">at 1 µM</text><text transform="translate(550.86,675.60) rotate(-90)" text-anchor="start" textLength="98.8" lengthAdjust="spacingAndGlyphs" font-size="14.4">[<tspan style="font-weight:bold;stroke-width:0.1px;fill:#00B050;stroke:#00B050">N</tspan>][Au<tspan style="font-weight:bold;stroke-width:0.1px;fill:#FFC000;stroke:#FFC000">S</tspan><tspan style="font-weight:bold;stroke-width:0.1px">Me</tspan>(=<tspan style="font-weight:bold;stroke-width:0.1px;fill:#FFC000;stroke:#FFC000">S</tspan>)]</text>
<text transform="translate(564.41,523.4) rotate(-90)" text-anchor="end" textLength="48.7" lengthAdjust="spacingAndGlyphs" font-size="14.4">at 5 µM</text><text transform="translate(564.41,675.60) rotate(-90)" text-anchor="start" textLength="98.8" lengthAdjust="spacingAndGlyphs" font-size="14.4">[<tspan style="font-weight:bold;stroke-width:0.1px;fill:#00B050;stroke:#00B050">N</tspan>][Au<tspan style="font-weight:bold;stroke-width:0.1px;fill:#FFC000;stroke:#FFC000">S</tspan><tspan style="font-weight:bold;stroke-width:0.1px">Me</tspan>(=<tspan style="font-weight:bold;stroke-width:0.1px;fill:#FFC000;stroke:#FFC000">S</tspan>)]</text>
<text transform="translate(591.51,523.4) rotate(-90)" text-anchor="end" textLength="48.7" lengthAdjust="spacingAndGlyphs" font-size="14.4">at 1 µM</text><text transform="translate(591.51,666.30) rotate(-90)" text-anchor="start" textLength="89.5" lengthAdjust="spacingAndGlyphs" font-size="14.4">[<tspan style="font-weight:bold;stroke-width:0.1px;fill:#00B050;stroke:#00B050">N</tspan>][Au<tspan style="font-weight:bold;stroke-width:0.1px;fill:#FFC000;stroke:#FFC000">S</tspan><tspan style="font-weight:bold;stroke-width:0.1px">Et</tspan>(=<tspan style="font-weight:bold;stroke-width:0.1px;fill:#FFC000;stroke:#FFC000">S</tspan>)]</text>
<text transform="translate(605.06,523.4) rotate(-90)" text-anchor="end" textLength="48.7" lengthAdjust="spacingAndGlyphs" font-size="14.4">at 5 µM</text><text transform="translate(605.06,666.30) rotate(-90)" text-anchor="start" textLength="89.5" lengthAdjust="spacingAndGlyphs" font-size="14.4">[<tspan style="font-weight:bold;stroke-width:0.1px;fill:#00B050;stroke:#00B050">N</tspan>][Au<tspan style="font-weight:bold;stroke-width:0.1px;fill:#FFC000;stroke:#FFC000">S</tspan><tspan style="font-weight:bold;stroke-width:0.1px">Et</tspan>(=<tspan style="font-weight:bold;stroke-width:0.1px;fill:#FFC000;stroke:#FFC000">S</tspan>)]</text>
<text transform="translate(632.17,523.4) rotate(-90)" text-anchor="end" textLength="48.7" lengthAdjust="spacingAndGlyphs" font-size="14.4">at 1 µM</text><text transform="translate(632.17,669.00) rotate(-90)" text-anchor="start" textLength="92.2" lengthAdjust="spacingAndGlyphs" font-size="14.4">[<tspan style="font-weight:bold;stroke-width:0.1px;fill:#FF0000;stroke:#FF0000">P</tspan>][Au<tspan style="font-weight:bold;stroke-width:0.1px;fill:#FFC000;stroke:#FFC000">S</tspan><tspan style="font-weight:bold;stroke-width:0.1px">Et</tspan>(=<tspan style="font-weight:bold;stroke-width:0.1px;fill:#C55A11;stroke:#C55A11">O</tspan>)]</text>
<text transform="translate(645.72,523.4) rotate(-90)" text-anchor="end" textLength="48.7" lengthAdjust="spacingAndGlyphs" font-size="14.4">at 5 µM</text><text transform="translate(645.72,669.00) rotate(-90)" text-anchor="start" textLength="92.2" lengthAdjust="spacingAndGlyphs" font-size="14.4">[<tspan style="font-weight:bold;stroke-width:0.1px;fill:#FF0000;stroke:#FF0000">P</tspan>][Au<tspan style="font-weight:bold;stroke-width:0.1px;fill:#FFC000;stroke:#FFC000">S</tspan><tspan style="font-weight:bold;stroke-width:0.1px">Et</tspan>(=<tspan style="font-weight:bold;stroke-width:0.1px;fill:#C55A11;stroke:#C55A11">O</tspan>)]</text>
<text transform="translate(672.82,523.4) rotate(-90)" text-anchor="end" textLength="48.7" lengthAdjust="spacingAndGlyphs" font-size="14.4">at 1 µM</text><text transform="translate(672.82,698.90) rotate(-90)" text-anchor="start" textLength="122.1" lengthAdjust="spacingAndGlyphs" font-size="14.4">[<tspan style="font-weight:bold;stroke-width:0.1px;fill:#00B050;stroke:#00B050">N</tspan>][Au<tspan style="font-weight:bold;stroke-width:0.1px;fill:#FFC000;stroke:#FFC000">S</tspan><tspan style="font-weight:bold;stroke-width:0.1px">Et</tspan>(=C(CN)<tspan font-size="7" dy="2" style="fill:#888;stroke:none">2</tspan><tspan dy="-2">)]</tspan></text>
<text transform="translate(686.37,523.4) rotate(-90)" text-anchor="end" textLength="48.7" lengthAdjust="spacingAndGlyphs" font-size="14.4">at 5 µM</text><text transform="translate(686.37,698.90) rotate(-90)" text-anchor="start" textLength="122.1" lengthAdjust="spacingAndGlyphs" font-size="14.4">[<tspan style="font-weight:bold;stroke-width:0.1px;fill:#00B050;stroke:#00B050">N</tspan>][Au<tspan style="font-weight:bold;stroke-width:0.1px;fill:#FFC000;stroke:#FFC000">S</tspan><tspan style="font-weight:bold;stroke-width:0.1px">Et</tspan>(=C(CN)<tspan font-size="7" dy="2" style="fill:#888;stroke:none">2</tspan><tspan dy="-2">)]</tspan></text>
<text transform="translate(713.47,523.4) rotate(-90)" text-anchor="end" textLength="48.7" lengthAdjust="spacingAndGlyphs" font-size="14.4">at 1 µM</text><text transform="translate(713.47,670.30) rotate(-90)" text-anchor="start" textLength="93.5" lengthAdjust="spacingAndGlyphs" font-size="14.4">[<tspan style="font-weight:bold;stroke-width:0.1px;fill:#FF0000;stroke:#FF0000">P</tspan>][Au<tspan style="font-weight:bold;stroke-width:0.1px;fill:#FFC000;stroke:#FFC000">S</tspan><tspan style="font-weight:bold;stroke-width:0.1px">Bu</tspan>(=<tspan style="font-weight:bold;stroke-width:0.1px;fill:#FFC000;stroke:#FFC000">S</tspan>)]</text>
<text transform="translate(727.02,523.4) rotate(-90)" text-anchor="end" textLength="48.7" lengthAdjust="spacingAndGlyphs" font-size="14.4">at 5 µM</text><text transform="translate(727.02,670.30) rotate(-90)" text-anchor="start" textLength="93.5" lengthAdjust="spacingAndGlyphs" font-size="14.4">[<tspan style="font-weight:bold;stroke-width:0.1px;fill:#FF0000;stroke:#FF0000">P</tspan>][Au<tspan style="font-weight:bold;stroke-width:0.1px;fill:#FFC000;stroke:#FFC000">S</tspan><tspan style="font-weight:bold;stroke-width:0.1px">Bu</tspan>(=<tspan style="font-weight:bold;stroke-width:0.1px;fill:#FFC000;stroke:#FFC000">S</tspan>)]</text>
</g>
</svg>
</body></html>
